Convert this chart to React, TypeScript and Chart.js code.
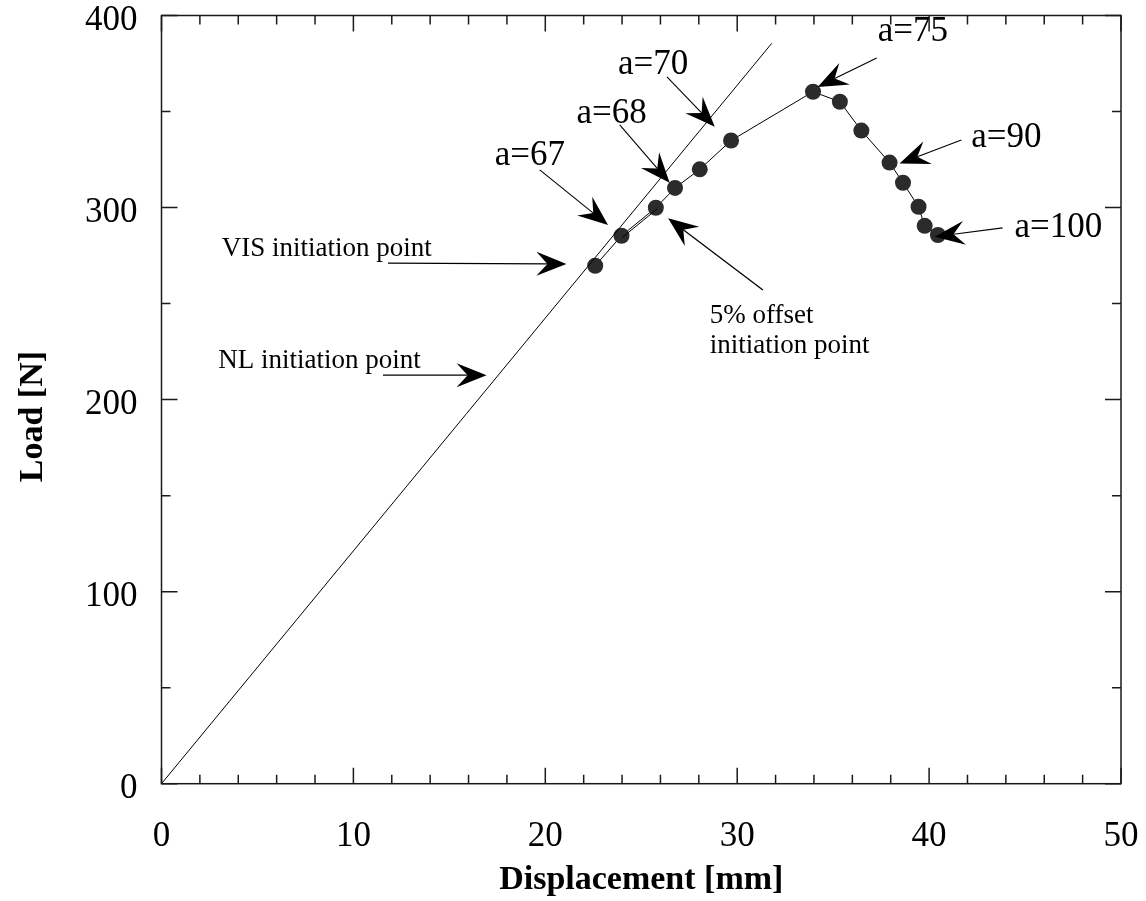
import React, { useEffect, useRef } from "react";
import { Chart, registerables } from "chart.js";

Chart.register(...registerables);

// ---- axes ----
const X_MIN = 0;
const X_MAX = 50;
const Y_MIN = 0;
const Y_MAX = 400;
const xMajorStep = 10;
const xMinorStep = 2;
const yMajorStep = 100;
const yMinorStep = 50;
const xTitle = "Displacement [mm]";
const yTitle = "Load [N]";

// ---- measured load–displacement points (dots) ----
const displacement = [22.6, 23.97, 25.76, 26.76, 28.05, 29.68, 33.95, 35.35, 36.47, 37.94, 38.64, 39.45, 39.77, 40.46];
const load = [269.7, 285.3, 299.9, 310.2, 319.9, 334.9, 360.3, 355.1, 340.1, 323.4, 312.9, 300.4, 290.5, 285.7];

// ---- linear (initial compliance) line ----
const linearDisp = [0, 31.8];
const linearLoad = [0, 385.5];

// ---- short offset segment (double line between 2nd and 3rd points) ----
const offsetDisp = [24.03, 25.82];
const offsetLoad = [284.6, 299.2];

// ---- crack-length callouts ----
const calloutLabels = ["a=67", "a=68", "a=70", "a=75", "a=90", "a=100"];
const calloutTextX = [17.37, 21.63, 23.79, 37.32, 42.2, 44.45];
const calloutTextY = [322.2, 343.9, 369.5, 386.7, 331.7, 284.8];
const calloutFromX = [19.71, 23.88, 26.34, 37.27, 41.68, 43.83];
const calloutFromY = [319.6, 343.0, 368.1, 377.9, 335.2, 289.4];
const calloutToX = [23.27, 26.48, 28.83, 34.19, 38.46, 40.29];
const calloutToY = [290.9, 312.9, 342.1, 362.8, 323.0, 284.8];

// ---- initiation point notes ----
const noteLabels = [["VIS initiation point"], ["NL initiation point"], ["5% offset", "initiation point"]];
const noteTextX = [3.14, 2.96, 28.57];
const noteTextY = [274.9, 216.3, 239.7];
const noteFromX = [11.8, 11.54, 31.34];
const noteFromY = [271.1, 212.7, 257.1];
const noteToX = [21.1, 16.94, 26.4];
const noteToY = [270.6, 212.7, 294.4];

const SERIF = '"Liberation Serif", "Times New Roman", Times, serif';

function drawArrow(ctx: CanvasRenderingContext2D, x1: number, y1: number, x2: number, y2: number, lw: number) {
  const dx = x2 - x1;
  const dy = y2 - y1;
  const len = Math.hypot(dx, dy);
  const ux = dx / len;
  const uy = dy / len;
  const nx = -uy;
  const ny = ux;
  const L = 30;
  const W = 12;
  const notch = 19;
  ctx.beginPath();
  ctx.moveTo(x1, y1);
  ctx.lineTo(x2 - ux * notch, y2 - uy * notch);
  ctx.lineWidth = lw;
  ctx.strokeStyle = "#000";
  ctx.stroke();
  ctx.beginPath();
  ctx.moveTo(x2, y2);
  ctx.quadraticCurveTo(x2 - ux * L * 0.55 + nx * W * 0.55, y2 - uy * L * 0.55 + ny * W * 0.55, x2 - ux * L + nx * W, y2 - uy * L + ny * W);
  ctx.lineTo(x2 - ux * notch, y2 - uy * notch);
  ctx.lineTo(x2 - ux * L - nx * W, y2 - uy * L - ny * W);
  ctx.quadraticCurveTo(x2 - ux * L * 0.55 - nx * W * 0.55, y2 - uy * L * 0.55 - ny * W * 0.55, x2, y2);
  ctx.closePath();
  ctx.fillStyle = "#000";
  ctx.fill();
}

const frameTicksPlugin = {
  id: "frameTicks",
  afterDraw(chart: any) {
    const { ctx, chartArea: a, scales } = chart;
    const x = scales.x;
    const y = scales.y;
    ctx.save();
    ctx.strokeStyle = "#1a1a1a";
    ctx.lineWidth = 1.5;
    ctx.strokeRect(a.left, a.top, a.right - a.left, a.bottom - a.top);
    ctx.beginPath();
    for (let v = X_MIN; v <= X_MAX + 1e-9; v += xMinorStep) {
      const px = x.getPixelForValue(v);
      const major = Math.abs(v / xMajorStep - Math.round(v / xMajorStep)) < 1e-9;
      const len = major ? 16 : 9;
      ctx.moveTo(px, a.bottom);
      ctx.lineTo(px, a.bottom - len);
      ctx.moveTo(px, a.top);
      ctx.lineTo(px, a.top + len);
    }
    for (let v = Y_MIN; v <= Y_MAX + 1e-9; v += yMinorStep) {
      const py = y.getPixelForValue(v);
      const major = Math.abs(v / yMajorStep - Math.round(v / yMajorStep)) < 1e-9;
      const len = major ? 16 : 9;
      ctx.moveTo(a.left, py);
      ctx.lineTo(a.left + len, py);
      ctx.moveTo(a.right, py);
      ctx.lineTo(a.right - len, py);
    }
    ctx.stroke();

    // y axis title
    ctx.save();
    ctx.translate(41.5, (a.top + a.bottom) / 2 + 17);
    ctx.rotate(-Math.PI / 2);
    ctx.font = `bold 34px ${SERIF}`;
    ctx.fillStyle = "#000";
    ctx.textAlign = "center";
    ctx.textBaseline = "alphabetic";
    ctx.fillText(yTitle, 0, 0);
    ctx.restore();
    ctx.restore();
  },
};

const annotationPlugin = {
  id: "annotations",
  afterDatasetsDraw(chart: any) {
    const { ctx, scales } = chart;
    const x = scales.x;
    const y = scales.y;
    ctx.save();
    ctx.fillStyle = "#000";
    ctx.textAlign = "left";
    ctx.textBaseline = "alphabetic";
    ctx.font = `35px ${SERIF}`;
    for (let i = 0; i < calloutLabels.length; i++) {
      ctx.fillStyle = "#000";
      ctx.fillText(calloutLabels[i], x.getPixelForValue(calloutTextX[i]), y.getPixelForValue(calloutTextY[i]));
      drawArrow(
        ctx,
        x.getPixelForValue(calloutFromX[i]),
        y.getPixelForValue(calloutFromY[i]),
        x.getPixelForValue(calloutToX[i]),
        y.getPixelForValue(calloutToY[i]),
        1.1
      );
    }
    ctx.font = `27px ${SERIF}`;
    for (let i = 0; i < noteLabels.length; i++) {
      const tx = x.getPixelForValue(noteTextX[i]);
      const ty = y.getPixelForValue(noteTextY[i]);
      ctx.fillStyle = "#000";
      noteLabels[i].forEach((line, k) => ctx.fillText(line, tx, ty + k * 30));
      drawArrow(
        ctx,
        x.getPixelForValue(noteFromX[i]),
        y.getPixelForValue(noteFromY[i]),
        x.getPixelForValue(noteToX[i]),
        y.getPixelForValue(noteToY[i]),
        1.3
      );
    }
    ctx.restore();
  },
};

export default function App() {
  const canvasRef = useRef<HTMLCanvasElement | null>(null);

  useEffect(() => {
    if (!canvasRef.current) return;
    const toPts = (xs: number[], ys: number[]) => xs.map((v, i) => ({ x: v, y: ys[i] }));
    const chart = new Chart(canvasRef.current, {
      type: "scatter",
      data: {
        datasets: [
          {
            label: "Linear",
            data: toPts(linearDisp, linearLoad),
            showLine: true,
            borderColor: "#000",
            borderWidth: 1,
            pointRadius: 0,
          },
          {
            label: "Offset",
            data: toPts(offsetDisp, offsetLoad),
            showLine: true,
            borderColor: "#000",
            borderWidth: 1,
            pointRadius: 0,
          },
          {
            label: "Load",
            data: toPts(displacement, load),
            showLine: true,
            borderColor: "#000",
            borderWidth: 1,
            pointRadius: 8,
            pointBackgroundColor: "#2b2b2b",
            pointBorderColor: "#2b2b2b",
            pointBorderWidth: 0,
          },
        ],
      },
      options: {
        responsive: true,
        maintainAspectRatio: false,
        animation: false,
        layout: { padding: { top: 15.5, right: 25, left: 0, bottom: 0 } },
        plugins: {
          legend: { display: false },
          tooltip: { enabled: false },
        },
        scales: {
          x: {
            type: "linear",
            min: X_MIN,
            max: X_MAX,
            ticks: {
              stepSize: xMajorStep,
              font: { family: SERIF, size: 35 },
              color: "#000",
              padding: 32,
              maxRotation: 0,
              autoSkip: false,
            },
            grid: { display: false, drawTicks: false },
            border: { display: false },
            title: {
              display: true,
              text: xTitle,
              color: "#000",
              font: { family: SERIF, size: 34, weight: "bold" },
              padding: { top: 0, bottom: 0 },
            },
            afterFit: (s: any) => {
              s.height = 117.3;
              s.paddingLeft = 0;
              s.paddingRight = 0;
              s.paddingTop = 0;
              s.paddingBottom = 0;
            },
          },
          y: {
            type: "linear",
            min: Y_MIN,
            max: Y_MAX,
            ticks: {
              stepSize: yMajorStep,
              font: { family: SERIF, size: 35 },
              color: "#000",
              padding: 24,
              labelOffset: 5.5,
            },
            grid: { display: false, drawTicks: false },
            border: { display: false },
            title: { display: false },
            afterFit: (s: any) => {
              s.width = 161.5;
              s.paddingLeft = 0;
              s.paddingRight = 0;
              s.paddingTop = 0;
              s.paddingBottom = 0;
            },
          },
        },
      },
      plugins: [frameTicksPlugin, annotationPlugin],
    } as any);
    return () => chart.destroy();
  }, []);

  return (
    <div style={{ position: "fixed", left: 0, top: 0, width: 1146, height: 901, background: "#fff" }}>
      <canvas ref={canvasRef} />
    </div>
  );
}
